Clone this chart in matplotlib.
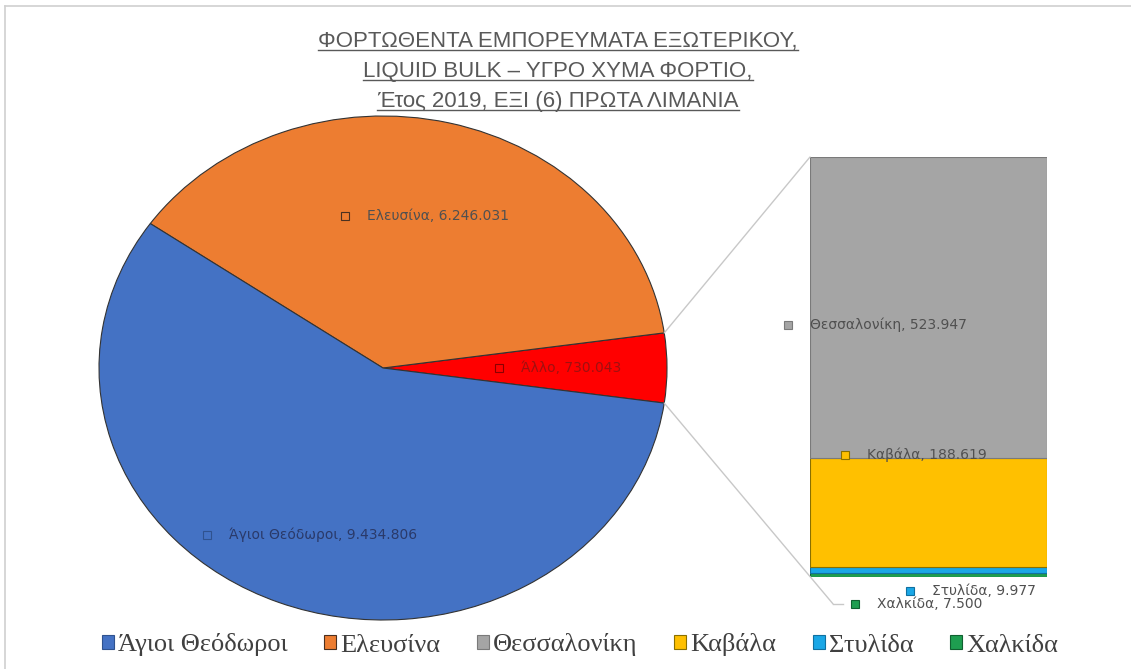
import matplotlib
matplotlib.use('Agg')
import matplotlib.pyplot as plt
from matplotlib.patches import ConnectionPatch, Patch
from matplotlib.lines import Line2D
import numpy as np

# Data
title_lines = ['ΦΟΡΤΩΘΕΝΤΑ ΕΜΠΟΡΕΥΜΑΤΑ ΕΞΩΤΕΡΙΚΟΥ,',
               'LIQUID BULK – ΥΓΡΟ ΧΥΜΑ ΦΟΡΤΙΟ,',
               'Έτος 2019, ΕΞΙ (6) ΠΡΩΤΑ ΛΙΜΑΝΙΑ']
pie_labels = ['Άλλο', 'Ελευσίνα', 'Άγιοι Θεόδωροι']
pie_values = [730043, 6246031, 9434806]
bar_labels = ['Χαλκίδα', 'Στυλίδα', 'Καβάλα', 'Θεσσαλονίκη']
bar_values = [7500, 9977, 188619, 523947]
legend_labels = ['Άγιοι Θεόδωροι', 'Ελευσίνα', 'Θεσσαλονίκη', 'Καβάλα', 'Στυλίδα', 'Χαλκίδα']

colors = {'Άγιοι Θεόδωροι': '#4472C4', 'Ελευσίνα': '#ED7D31', 'Άλλο': '#FF0000',
          'Θεσσαλονίκη': '#A5A5A5', 'Καβάλα': '#FFC000', 'Στυλίδα': '#1AA7E6',
          'Χαλκίδα': '#1E9E50'}
edges = {'Άγιοι Θεόδωροι': '#2F528F', 'Ελευσίνα': '#4a3020', 'Άλλο': '#8B0000',
         'Θεσσαλονίκη': '#7a7a7a', 'Καβάλα': '#8a7000', 'Στυλίδα': '#1070a0',
         'Χαλκίδα': '#106030'}

def fmt(v):
    return f'{v:,}'.replace(',', '.')

W, H = 1131, 669
fig = plt.figure(figsize=(W / 100, H / 100), dpi=100)
fig.patch.set_facecolor('white')

# light frame at top / left
fig.add_artist(Line2D([5 / W, 1], [1 - 6 / H, 1 - 6 / H], transform=fig.transFigure, color='#d0d0d0', lw=1.2))
fig.add_artist(Line2D([5 / W, 5 / W], [0, 1 - 6 / H], transform=fig.transFigure, color='#d0d0d0', lw=1.2))

# pie
ax1 = fig.add_axes([99 / W, 1 - 620 / H, 568 / W, 504 / H])
ax1.pie(pie_values, colors=[colors[l] for l in pie_labels], startangle=-8, counterclock=True,
        wedgeprops=dict(edgecolor='#333333', linewidth=0.8))
ax1.set_aspect('auto')
ax1.set_xlim(-1, 1)
ax1.set_ylim(-1, 1)

def add_label(ax, x, y, text, name, tcolor='#505050', trans=None):
    trans = trans if trans is not None else ax.transData
    ax.plot([x], [y], marker='s', markersize=6, transform=trans, clip_on=False,
            markerfacecolor=colors[name], markeredgecolor=edges[name], markeredgewidth=0.8)
    ax.annotate(text, (x, y), xycoords=trans, xytext=(22, 0), textcoords='offset pixels',
                va='center', ha='left', fontsize=10, color=tcolor, annotation_clip=False)

pv = dict(zip(pie_labels, pie_values))
add_label(ax1, -0.134, 0.603, f'Ελευσίνα, {fmt(pv["Ελευσίνα"])}', 'Ελευσίνα')
add_label(ax1, -0.62, -0.663, f'Άγιοι Θεόδωροι, {fmt(pv["Άγιοι Θεόδωροι"])}', 'Άγιοι Θεόδωροι', tcolor='#2a3a6a')
add_label(ax1, 0.41, 0.0, f'Άλλο, {fmt(pv["Άλλο"])}', 'Άλλο', tcolor='#a01010')

# stacked bar
ax2 = fig.add_axes([810 / W, 1 - 577 / H, 237 / W, 420 / H])
bottom = 0
for lab, v in zip(bar_labels, bar_values):
    ax2.bar(0, v, width=1, bottom=bottom, color=colors[lab], edgecolor=edges[lab], linewidth=0.8)
    bottom += v
ax2.set_xlim(-0.5, 0.5)
ax2.set_ylim(0, sum(bar_values))
ax2.axis('off')

bv = dict(zip(bar_labels, bar_values))
add_label(ax2, -0.093, 0.60, f'Θεσσαλονίκη, {fmt(bv["Θεσσαλονίκη"])}', 'Θεσσαλονίκη', trans=ax2.transAxes)
add_label(ax2, 0.148, 0.290, f'Καβάλα, {fmt(bv["Καβάλα"])}', 'Καβάλα', trans=ax2.transAxes)
add_label(ax2, 0.422, -0.033, f'Στυλίδα, {fmt(bv["Στυλίδα"])}', 'Στυλίδα', trans=ax2.transAxes)
add_label(ax2, 0.19, -0.064, f'Χαλκίδα, {fmt(bv["Χαλκίδα"])}', 'Χαλκίδα', trans=ax2.transAxes)

# connector lines
a = np.deg2rad(8)
con1 = ConnectionPatch(xyA=(np.cos(a), np.sin(a)), coordsA=ax1.transData,
                       xyB=(0, 1), coordsB=ax2.transAxes, color='#c8c8c8', lw=1)
con2 = ConnectionPatch(xyA=(np.cos(-a), np.sin(-a)), coordsA=ax1.transData,
                       xyB=(0.097, -0.064), coordsB=ax2.transAxes, color='#c8c8c8', lw=1)
fig.add_artist(con1)
fig.add_artist(con2)
ax2.plot([0.097, 0.14], [-0.064, -0.064], transform=ax2.transAxes, color='#c8c8c8', lw=1, clip_on=False)

# title with underline
title_texts = []
for i, line in enumerate(title_lines):
    t = fig.text(558 / W, 1 - (41 + 30 * i) / H, line, ha='center', va='center',
                 fontsize=16, color='#595959', family='Liberation Sans')
    title_texts.append(t)
fig.canvas.draw()
r = fig.canvas.get_renderer()
for t in title_texts:
    bb = t.get_window_extent(r)
    y = (bb.y0 + 2) / H
    fig.add_artist(Line2D([bb.x0 / W, bb.x1 / W], [y, y], transform=fig.transFigure, color='#595959', lw=1))

# legend
handles = [Patch(facecolor=colors[l], edgecolor=edges[l], linewidth=0.8) for l in legend_labels]
fig.legend(handles, legend_labels, loc='center', bbox_to_anchor=(580 / W, 1 - 645 / H), ncol=6,
           frameon=False, prop={'family': 'Liberation Serif', 'size': 19},
           handlelength=0.45, handleheight=0.45, handletextpad=0.15, columnspacing=1.4, labelcolor='#404040')

fig.savefig('out.png', dpi=100)
